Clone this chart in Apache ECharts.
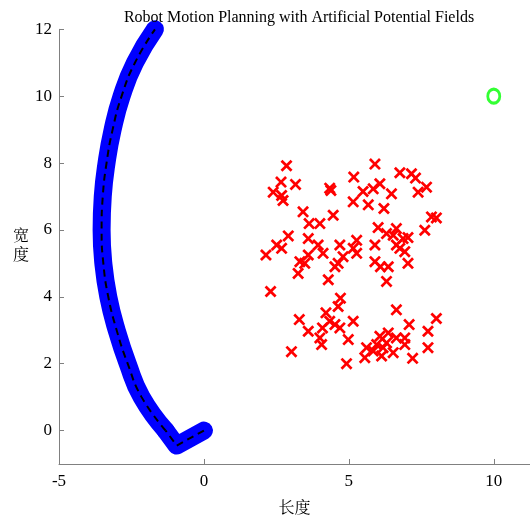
<!DOCTYPE html>
<html>
<head>
<meta charset="utf-8">
<script src="https://cdn.jsdelivr.net/npm/echarts@6/dist/echarts.min.js"></script>
<style>
  html, body { margin: 0; padding: 0; background: #fff; }
  #chart { width: 530px; height: 522px; }
</style>
</head>
<body>
<div id="chart"></div>
<script>
// robot path (start -> goal side)
const pathX = [0, -0.94, -1.32, -2.15, -2.63, -3.01, -3.30, -3.47, -3.53, -3.49, -3.36, -3.15, -2.84, -2.38, -1.69];
const pathY = [0, -0.45, 0, 1, 2, 3, 4, 5, 6, 7, 8, 9, 10, 11, 12];

// obstacles (red crosses)
const obsX = [
  2.85, 5.90, 6.76, 7.16, 7.30, 5.17, 2.66, 3.16, 4.34, 4.38, 2.39, 2.68, 2.73,
  6.07, 5.84, 5.49, 6.47, 7.68, 7.39, 5.15, 5.67, 6.21, 3.42, 4.46, 3.63, 4.00,
  7.85, 8.02, 6.01, 7.62, 6.64, 6.30, 6.53, 6.87, 7.04, 2.91, 3.60, 2.51, 2.68,
  3.94, 5.27, 4.69, 5.15, 5.27, 5.90, 6.64, 6.76, 6.93, 2.14, 3.60, 4.11, 4.80,
  4.63, 4.52, 3.31, 3.48, 3.25, 5.90, 6.09, 6.36, 7.04, 4.29, 6.30, 2.30,
  4.71, 4.63, 6.64, 4.21, 3.29, 4.34, 4.52, 5.15, 8.02, 4.09, 4.69, 7.08, 3.60,
  7.73, 4.00, 4.98, 4.06, 6.36, 6.07, 6.64, 6.93, 6.30, 5.96, 5.61, 5.84, 6.18,
  7.73, 6.53, 5.55, 6.13, 7.20, 3.02, 4.92, 6.93
];
const obsY = [
  7.92, 7.97, 7.71, 7.68, 7.55, 7.58, 7.43, 7.36, 7.25, 7.18, 7.13, 7.03, 6.88,
  7.38, 7.23, 7.15, 7.08, 7.28, 7.13, 6.84, 6.75, 6.64, 6.54, 6.44, 6.19, 6.19,
  6.39, 6.36, 6.07, 5.99, 6.04, 5.89, 5.84, 5.74, 5.77, 5.82, 5.74, 5.55, 5.45,
  5.55, 5.69, 5.55, 5.45, 5.30, 5.55, 5.55, 5.45, 5.35, 5.25, 5.25, 5.30, 5.20,
  5.00, 4.90, 5.05, 5.00, 4.70, 5.05, 4.90, 4.90, 5.00, 4.51, 4.46, 4.16,
  3.96, 3.71, 3.61, 3.52, 3.32, 3.27, 3.17, 3.27, 3.35, 3.07, 3.07, 3.17, 2.97,
  2.97, 2.77, 2.72, 2.57, 2.92, 2.82, 2.77, 2.77, 2.62, 2.57, 2.48, 2.38, 2.48,
  2.48, 2.33, 2.18, 2.23, 2.16, 2.36, 2.00, 2.57
];

const goal = [10, 10];

const xTicks = [-5, 0, 5, 10];
const yTicks = [0, 2, 4, 6, 8, 10, 12];

const chart = echarts.init(document.getElementById('chart'), null, { renderer: 'canvas' });

const serif = 'Liberation Serif, Times New Roman, serif';
const cjk = 'Liberation Serif, Noto Serif CJK SC, Noto Sans CJK SC, serif';
const pathData = pathX.map((x, i) => [x, pathY[i]]);
const cornerPart = pathData.slice(0, 3);   // start -> dip -> back up (straight bits)
const arcPart = pathData.slice(2);         // the long arc
const obsData = obsX.map((x, i) => [x, obsY[i]]);
const crossPath = 'path://M1.6,0L5,3.4L8.4,0L10,1.6L6.6,5L10,8.4L8.4,10L5,6.6L1.6,10L0,8.4L3.4,5L0,1.6Z';

const axisCommon = {
  axisLine: { show: true, onZero: false, lineStyle: { color: '#808080', width: 1 } },
  axisTick: { show: true, inside: true, length: 5, lineStyle: { color: '#808080' } },
  splitLine: { show: false },
  axisLabel: { color: '#000', fontFamily: serif, fontSize: 17 }
};

function pathSeries(data, smooth, lineStyle, z) {
  return {
    type: 'line',
    data: data,
    showSymbol: false,
    clip: false,
    smooth: smooth,
    lineStyle: lineStyle,
    z: z
  };
}

const blueStyle = { color: '#0000ff', width: 18, cap: 'round', join: 'round' };
const dashStyle = { color: '#000', width: 2, type: [7, 5] };

const option = {
  animation: false,
  backgroundColor: '#fff',
  title: {
    text: 'Robot Motion Planning with Artificial Potential Fields',
    left: 294,
    textAlign: 'center',
    top: 5,
    textStyle: { fontFamily: serif, fontSize: 16, fontWeight: 'normal', color: '#000' }
  },
  grid: { left: 59, right: 0, top: 29.3, bottom: 55.3, containLabel: false },
  xAxis: {
    type: 'value',
    min: -5,
    max: 11.25,
    name: '长度',
    nameLocation: 'middle',
    nameGap: 37,
    nameTextStyle: { fontFamily: cjk, fontSize: 16, color: '#000' },
    ...axisCommon,
    axisTick: { ...axisCommon.axisTick, customValues: xTicks },
    axisLabel: { ...axisCommon.axisLabel, customValues: xTicks, margin: 9 }
  },
  yAxis: {
    type: 'value',
    min: -1,
    max: 12,
    name: '宽\n度',
    nameLocation: 'middle',
    nameRotate: 0,
    nameGap: 29,
    nameTextStyle: { fontFamily: cjk, fontSize: 16, color: '#000', lineHeight: 19 },
    ...axisCommon,
    axisTick: { ...axisCommon.axisTick, customValues: yTicks },
    axisLabel: { ...axisCommon.axisLabel, customValues: yTicks, margin: 7 }
  },
  series: [
    pathSeries(cornerPart, false, blueStyle, 2),
    pathSeries(arcPart, 0.5, blueStyle, 2),
    pathSeries(cornerPart, false, dashStyle, 3),
    pathSeries(arcPart, 0.5, dashStyle, 3),
    {
      type: 'scatter',
      data: obsData,
      symbol: crossPath,
      symbolSize: 12,
      itemStyle: { color: '#ff0000', opacity: 1 },
      z: 4
    },
    {
      type: 'scatter',
      data: [goal],
      symbol: 'circle',
      symbolSize: [12, 14],
      itemStyle: { color: 'rgba(0,0,0,0)', borderColor: '#00ff00', borderWidth: 3 },
      z: 4
    }
  ]
};

chart.setOption(option);
</script>
</body>
</html>
